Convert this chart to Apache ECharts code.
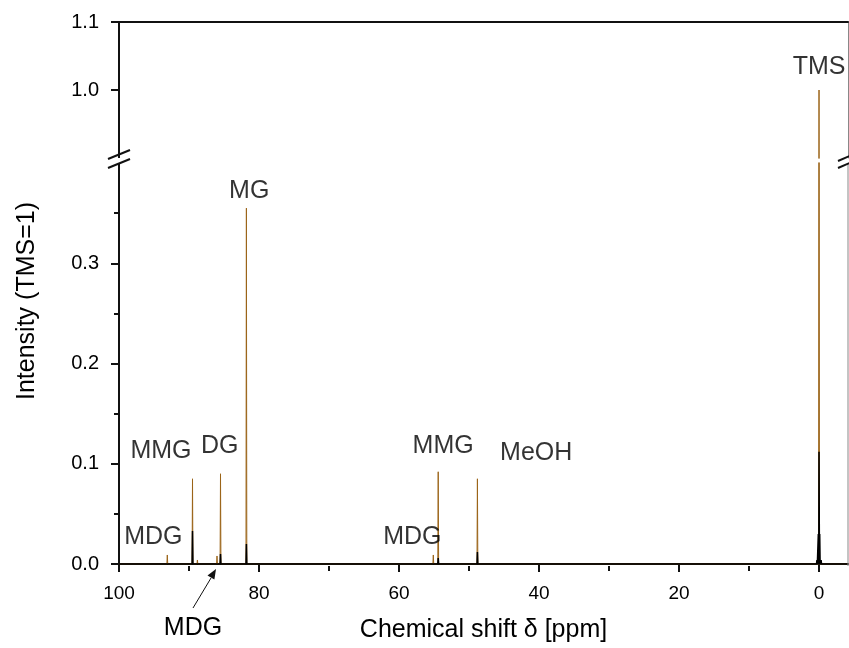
<!DOCTYPE html>
<html>
<head>
<meta charset="utf-8">
<script src="https://cdn.jsdelivr.net/npm/echarts@6/dist/echarts.min.js"></script>
<style>html,body{margin:0;padding:0;background:#fff}#c{width:849px;height:648px}</style>
</head>
<body>
<div id="c"></div>
<script>
// ---- data ----
const peakShift  = [93.1, 89.5, 88.8, 86.0, 85.5, 81.8, 55.1, 54.4, 48.8, 0.0];
const peakHeight = [0.009, 0.085, 0.004, 0.008, 0.090, 0.355, 0.009, 0.092, 0.085, 1.0];
const blackShift  = [89.5, 85.5, 81.8, 54.4, 48.8, 0.3, 0.1, 0.0, -0.1, -0.3];
const blackHeight = [0.033, 0.010, 0.020, 0.006, 0.012, 0.004, 0.030, 0.112, 0.030, 0.004];
const xTickLabels = [100, 80, 60, 40, 20, 0];
const xMinorTicks = [90, 70, 50, 30, 10];
const yLowerLabels = [0, 0.1, 0.2, 0.3];
const yLowerMinor = [0.05, 0.15, 0.25, 0.35];
const yUpperLabels = [1.0, 1.1];
const annoText  = ['MDG', 'MMG', 'DG', 'MG', 'MDG', 'MMG', 'MeOH'];
const annoShift = [95.1, 94.0, 85.6, 81.4, 58.1, 53.7, 40.4];
const annoInt   = [0.027, 0.113, 0.118, 0.372, 0.027, 0.118, 0.111];
const tmsAnno = {text: 'TMS', shift: 0.0, intensity: 1.033};

const xMin = -4.14, xMax = 100;

function stickSpectrum(shifts, heights) {
  const pts = shifts.map((s, i) => [s, heights[i]]).sort((a, b) => b[0] - a[0]);
  const out = [[xMax, 0]];
  pts.forEach(p => { out.push([p[0] + 0.06, 0]); out.push([p[0], p[1]]); out.push([p[0] - 0.06, 0]); });
  out.push([xMin, 0]);
  return out;
}
const orangeData = stickSpectrum(peakShift, peakHeight);
const blackData = stickSpectrum(blackShift, blackHeight);

const FONT = 'Liberation Sans, Arial, sans-serif';
const specColor = '#9b6418';
const axisLine = {show: true, onZero: false, lineStyle: {color: '#111', width: 2}};
const greyLine = {show: true, onZero: false, lineStyle: {color: '#888', width: 1}};
const tickStyle = {color: '#111', width: 2};

const chart = echarts.init(document.getElementById('c'), null, {renderer: 'canvas'});
chart.setOption({
  animation: false,
  backgroundColor: '#fff',
  grid: [
    {left: 119, right: 1, top: 163, bottom: 82},
    {left: 119, right: 1, top: 22, height: 136}
  ],
  xAxis: [
    {gridIndex: 0, type: 'value', inverse: true, min: xMin, max: xMax, position: 'bottom',
     axisLine: axisLine, splitLine: {show: false},
     axisTick: {show: true, inside: false, length: 8, customValues: xTickLabels, lineStyle: tickStyle},
     axisLabel: {customValues: xTickLabels, fontFamily: FONT, fontSize: 19, color: '#000', margin: 20},
     name: 'Chemical shift \u03b4 [ppm]', nameLocation: 'middle', nameGap: 54,
     nameTextStyle: {fontFamily: FONT, fontSize: 25, color: '#000'}},
    {gridIndex: 0, type: 'value', inverse: true, min: xMin, max: xMax, position: 'top', offset: -403,
     axisLine: {show: false, onZero: false}, splitLine: {show: false},
     axisTick: {show: true, inside: true, length: 5, customValues: xMinorTicks, lineStyle: tickStyle},
     axisLabel: {show: false}},
    {gridIndex: 1, type: 'value', inverse: true, min: xMin, max: xMax, position: 'top',
     axisLine: axisLine, splitLine: {show: false}, axisTick: {show: false}, axisLabel: {show: false}}
  ],
  yAxis: [
    {gridIndex: 0, type: 'value', min: 0, max: 0.4, interval: 0.1, position: 'left',
     axisLine: axisLine, splitLine: {show: false},
     axisTick: {show: true, inside: false, length: 8, customValues: yLowerLabels, lineStyle: tickStyle},
     minorTick: {show: false},
     axisLabel: {customValues: yLowerLabels, formatter: v => v.toFixed(1), fontFamily: FONT, fontSize: 20, color: '#000', margin: 20}},
    {gridIndex: 0, type: 'value', min: 0, max: 0.4, position: 'right', offset: -729,
     axisLine: {show: false, onZero: false}, splitLine: {show: false},
     axisTick: {show: true, inside: true, length: 5, customValues: yLowerMinor, lineStyle: tickStyle},
     axisLabel: {show: false}},
    {gridIndex: 1, type: 'value', min: 0.9, max: 1.1, interval: 0.1, position: 'left',
     axisLine: axisLine, splitLine: {show: false},
     axisTick: {show: true, inside: false, length: 8, customValues: yUpperLabels, lineStyle: tickStyle},
     axisLabel: {customValues: yUpperLabels, formatter: v => v.toFixed(1), fontFamily: FONT, fontSize: 20, color: '#000', margin: 20}},
    {gridIndex: 1, type: 'value', min: 0.9, max: 1.1, position: 'right',
     axisLine: greyLine, splitLine: {show: false},
     axisTick: {show: false}, axisLabel: {show: false}}
  ],
  series: [
    {type: 'line', xAxisIndex: 0, yAxisIndex: 0, data: orangeData, showSymbol: false, clip: true,
     lineStyle: {color: specColor, width: 1}, z: 3},
    {type: 'line', xAxisIndex: 2, yAxisIndex: 2, data: orangeData, showSymbol: false, clip: true,
     lineStyle: {color: specColor, width: 1}, z: 3},
    {type: 'line', xAxisIndex: 0, yAxisIndex: 0, data: blackData, showSymbol: false, clip: true,
     lineStyle: {color: '#000', width: 1.5}, z: 4},
    {type: 'scatter', xAxisIndex: 0, yAxisIndex: 0, symbolSize: 0,
     data: annoText.map((t, i) => ({value: [annoShift[i], annoInt[i]], name: t})),
     label: {show: true, position: 'inside', formatter: p => p.name, fontFamily: FONT, fontSize: 25, color: '#000'},
     z: 5},
    {type: 'scatter', xAxisIndex: 2, yAxisIndex: 2, symbolSize: 0,
     data: [{value: [tmsAnno.shift, tmsAnno.intensity], name: tmsAnno.text}],
     label: {show: true, position: 'inside', formatter: p => p.name, fontFamily: FONT, fontSize: 25, color: '#000'},
     z: 5}
  ],
  graphic: [
    // y-axis title, centred on the whole (broken) axis
    {type: 'text', x: 27, y: 301, rotation: Math.PI / 2,
     style: {text: 'Intensity (TMS=1)', font: '25px ' + FONT, fill: '#000', align: 'center', verticalAlign: 'middle'}, z: 101},
    // grey right border of lower panel
    {type: 'line', shape: {x1: 848, y1: 163, x2: 848, y2: 566}, style: {stroke: '#888', lineWidth: 1}, z: 90},
    // axis break marks (left)
    {type: 'rect', shape: {x: 104, y: 158, width: 30, height: 5}, style: {fill: '#fff'}, z: 100},
    {type: 'line', shape: {x1: 108, y1: 159, x2: 130, y2: 150}, style: {stroke: '#111', lineWidth: 2}, z: 101},
    {type: 'line', shape: {x1: 108, y1: 168, x2: 130, y2: 159}, style: {stroke: '#111', lineWidth: 2}, z: 101},
    // axis break marks (right)
    {type: 'line', shape: {x1: 838, y1: 161, x2: 852, y2: 155}, style: {stroke: '#111', lineWidth: 2}, z: 101},
    {type: 'line', shape: {x1: 838, y1: 168, x2: 852, y2: 162}, style: {stroke: '#111', lineWidth: 2}, z: 101},
    // arrow annotation
    {type: 'text', x: 193, y: 628, style: {text: 'MDG', font: '25px ' + FONT, fill: '#000', align: 'center', verticalAlign: 'middle'}, z: 101},
    {type: 'line', shape: {x1: 193, y1: 608, x2: 211, y2: 578}, style: {stroke: '#111', lineWidth: 1}, z: 101},
    {type: 'polygon', shape: {points: [[216, 569], [214.4, 579.6], [207.5, 575.6]]}, style: {fill: '#111'}, z: 101}
  ]
});
</script>
</body>
</html>
